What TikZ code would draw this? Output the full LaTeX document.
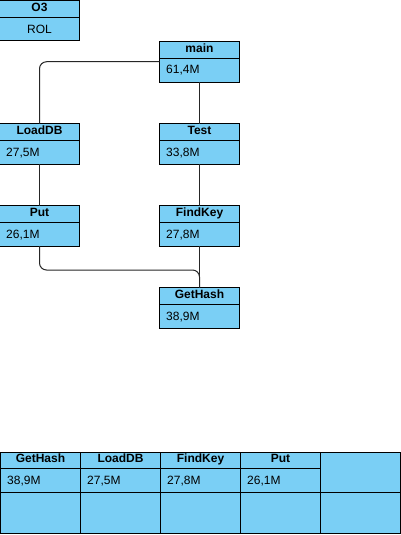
\documentclass[tikz,border=0pt]{standalone}
\usepackage{fontspec}
\setmainfont{Liberation Sans}
\definecolor{boxfill}{RGB}{122,207,245}
\tikzset{
  boxs/.style={draw=black, fill=boxfill, line width=1pt, minimum width=80pt, minimum height=40.5pt, inner sep=0pt, outer sep=0pt},
  boxline/.style={draw=black, line width=1pt},
  titletxt/.style={font=\fontsize{12}{14}\selectfont\bfseries, inner sep=0pt, anchor=base},
  valtxt/.style={font=\fontsize{12}{14}\selectfont, inner sep=0pt, anchor=base west},
  conn/.style={draw=black!85, line width=1pt, rounded corners=7pt},
}
\newcommand{\umlbox}[5]{%
  \node[boxs, anchor=north west] (#1) at (#2,#3) {};
  \draw[boxline] ([yshift=-17pt]#1.north west) -- ([yshift=-17pt]#1.north east);
  \node[titletxt] (#1-t) at ([yshift=-10.8pt]#1.north) {#4};
  \node[valtxt] (#1-v) at ([yshift=-32.5pt,xshift=6.5pt]#1.north west) {#5};
}
\begin{document}
\begin{tikzpicture}[x=1pt,y=1pt]
\useasboundingbox (0,0) rectangle (401,-535);
% O3 legend box
\node[boxs, anchor=north west] (o3) at (-0.5,-0.5) {};
\draw[boxline] ([yshift=-17pt]o3.north west) -- ([yshift=-17pt]o3.north east);
\node[titletxt] (o3-t) at ([yshift=-10.8pt]o3.north) {O3};
\node[valtxt, anchor=base] (o3-v) at ([yshift=-33pt]o3.north) {ROL};
% call tree boxes
\umlbox{main}{159.5}{-41.5}{main}{61,4M}
\umlbox{loaddb}{-0.5}{-123.5}{LoadDB}{27,5M}
\umlbox{test}{159.5}{-123.5}{Test}{33,8M}
\umlbox{put}{-0.5}{-205.5}{Put}{26,1M}
\umlbox{findkey}{159.5}{-205.5}{FindKey}{27,8M}
\umlbox{gethash}{159.5}{-287.5}{GetHash}{38,9M}
% connectors
\draw[conn] (main.west) -| (loaddb.north);
\draw[conn] (main.south) -- (test.north);
\draw[conn] (test.south) -- (findkey.north);
\draw[conn] (loaddb.south) -- (put.north);
\draw[conn] (findkey.south) -- (gethash.north);
\coordinate (bend) at (120,-270);
\draw[conn] (put.south) |- (bend) -| (gethash.north);
% summary table
\node[draw=black, fill=boxfill, line width=1pt, anchor=north west, minimum width=400pt, minimum height=81pt, inner sep=0pt, outer sep=0pt] (tab) at (0.5,-452.5) {};
\draw[boxline] (0.5,-468) -- (320.5,-468);
\draw[boxline] (0.5,-492) -- (400.5,-492);
\foreach \xx in {80.5,160.5,240.5,320.5} {\draw[boxline] (\xx,-452.5) -- (\xx,-533.5);}
\node[titletxt] (th1) at (40.5,-462.3) {GetHash};
\node[titletxt] (th2) at (120.5,-462.3) {LoadDB};
\node[titletxt] (th3) at (200.5,-462.3) {FindKey};
\node[titletxt] (th4) at (280.5,-462.3) {Put};
\node[valtxt] (tv1) at (7,-484.5) {38,9M};
\node[valtxt] (tv2) at (87,-484.5) {27,5M};
\node[valtxt] (tv3) at (167,-484.5) {27,8M};
\node[valtxt] (tv4) at (247,-484.5) {26,1M};
\end{tikzpicture}
\end{document}
